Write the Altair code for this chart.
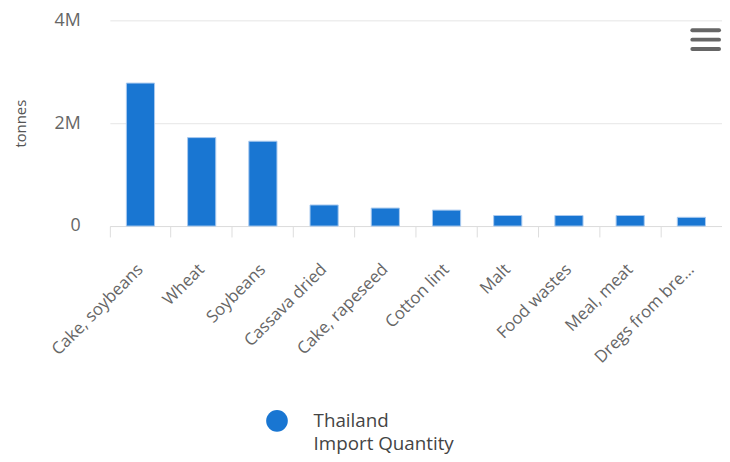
import altair as alt
import pandas as pd

categories = ["Cake, soybeans", "Wheat", "Soybeans", "Cassava dried", "Cake, rapeseed",
              "Cotton lint", "Malt", "Food wastes", "Meal, meat", "Dregs from brewing, distillation"]
values = [2780000, 1720000, 1650000, 410000, 350000, 310000, 205000, 205000, 205000, 170000]
series_name = "Thailand Import Quantity"
y_ticks = [0, 2000000, 4000000]

df = pd.DataFrame({"item": categories, "value": values, "series": [series_name] * len(categories)})

FONT = "Open Sans"
W, H = 619, 208

xscale = alt.Scale(paddingInner=0, paddingOuter=0)
yscale = alt.Scale(domain=[0, 4000000], nice=False)

y_enc = alt.Y("value:Q", scale=yscale, title="tonnes",
              axis=alt.Axis(values=y_ticks, ticks=False, domain=False, grid=True,
                            gridColor="#e6e6e6", gridWidth=1,
                            labelExpr="datum.value == 0 ? '0' : format(datum.value / 1000000, 'd') + 'M'",
                            labelPadding=30, labelFont=FONT, labelFontSize=18, labelColor="#666666",
                            titleFont=FONT, titleFontSize=15, titleFontWeight="normal",
                            titleColor="#555555", titleX=-82))

bars = alt.Chart(df).mark_bar(
    width=alt.RelativeBandSize(0.46), stroke="#a9c9ef", strokeWidth=1
).encode(
    x=alt.X("item:N", sort=categories, scale=xscale, title=None,
            axis=alt.Axis(orient="bottom", ticks=False, domain=False, grid=False,
                          labelAngle=-45, labelAlign="right", labelBaseline="middle",
                          labelPadding=41, labelFont=FONT, labelFontSize=17,
                          labelColor="#666666", labelLimit=200,
                          labelExpr="length(datum.label) > 16 ? substring(datum.label, 0, 14) + '…' : datum.label")),
    y=y_enc,
    color=alt.Color("series:N", scale=alt.Scale(range=["#1976d2"]), title=None,
                    legend=alt.Legend(orient="none", legendX=158, legendY=394,
                                      symbolType="circle", symbolSize=480,
                                      symbolStrokeWidth=0, symbolOpacity=1,
                                      labelFont=FONT, labelFontSize=19, labelColor="#444444",
                                      labelOffset=26, labelLimit=300, padding=0,
                                      labelExpr="['Thailand', 'Import Quantity']")),
)

ticks_layer = alt.Chart(df).mark_bar(opacity=0).encode(
    x=alt.X("item:N", sort=categories, scale=xscale, title=None,
            axis=alt.Axis(orient="bottom", labels=False, ticks=True, domain=True, grid=False,
                          bandPosition=0, tickSize=11, tickColor="#dddddd",
                          domainColor="#dddddd", tickWidth=1, domainWidth=1)),
    y=y_enc,
)

menu_df = pd.DataFrame({"k": [0]})
menu_layers = [
    alt.Chart(menu_df).mark_rule(stroke="#666666", strokeWidth=4, strokeCap="round").encode(
        x=alt.value(589), x2=alt.value(616), y=alt.value(yy))
    for yy in [10, 19.5, 29]
]

chart = alt.layer(bars, ticks_layer, *menu_layers).resolve_axis(x="independent").properties(
    width=W, height=H,
    autosize=alt.AutoSizeParams(type="none"),
    padding={"left": 103, "top": 10, "right": 0, "bottom": 228},
).configure(style={"guide-label": {"lineHeight": 23}}).configure_view(stroke=None)

chart.save("out.html", embed_options={"renderer": "svg", "actions": False})
